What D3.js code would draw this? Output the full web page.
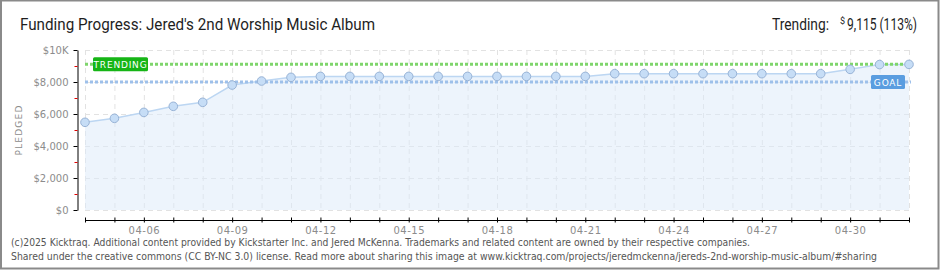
<!DOCTYPE html>
<html>
<head>
<meta charset="utf-8">
<script src="https://cdn.jsdelivr.net/npm/d3@7/dist/d3.min.js"></script>
<style>
  body { margin: 0; background: #fff; }
  svg { display: block; }
</style>
</head>
<body>
<svg width="940" height="270"></svg>
<script>
// daily pledged totals
const dates = ['04-04', '04-05', '04-06', '04-07', '04-08', '04-09', '04-10', '04-11', '04-12',
  '04-13', '04-14', '04-15', '04-16', '04-17', '04-18', '04-19', '04-20', '04-21', '04-22',
  '04-23', '04-24', '04-25', '04-26', '04-27', '04-28', '04-29', '04-30', '05-01', '05-02'];
const pledged = [5480, 5730, 6100, 6480, 6730, 7810, 8060, 8290, 8350,
  8350, 8350, 8350, 8350, 8350, 8350, 8350, 8350, 8350, 8520,
  8520, 8520, 8520, 8520, 8520, 8520, 8520, 8790, 9090, 9100];
const goal = 8000;
const trending = 9115;
const yTicks = [0, 2000, 4000, 6000, 8000, 10000];
const yMinor = [1000, 3000, 5000, 7000, 9000];
const xLabels = ['04-06', '04-09', '04-12', '04-15', '04-18', '04-21', '04-24', '04-27', '04-30'];

function draw() {
  const svg = d3.select('svg');
  const left = 85, right = 909, top = 50, bottom = 210;

  const x = d3.scalePoint().domain(dates).range([left, right]);
  const y = d3.scaleLinear().domain([0, 10000]).range([bottom, top]);

  // outer frame
  svg.append('rect')
    .attr('x', 1).attr('y', 0.5).attr('width', 937.5).attr('height', 268)
    .attr('fill', 'none').attr('stroke', '#8a8a8a').attr('stroke-width', 2);

  // title + trending summary
  svg.append('text')
    .attr('x', 20).attr('y', 30)
    .attr('font-family', 'Roboto, sans-serif').attr('font-size', 16)
    .attr('fill', '#1e1e1e')
    .attr('textLength', 355).attr('lengthAdjust', 'spacingAndGlyphs')
    .text("Funding Progress: Jered's 2nd Worship Music Album");

  svg.append('text')
    .attr('x', 772).attr('y', 30)
    .attr('font-family', 'Roboto, sans-serif').attr('font-size', 16)
    .attr('fill', '#1e1e1e')
    .attr('textLength', 57).attr('lengthAdjust', 'spacingAndGlyphs')
    .text('Trending:');
  svg.append('text')
    .attr('x', 840).attr('y', 24)
    .attr('font-family', 'Roboto, sans-serif').attr('font-size', 9)
    .attr('fill', '#1e1e1e')
    .text('$');
  svg.append('text')
    .attr('x', 847).attr('y', 30)
    .attr('font-family', 'Roboto, sans-serif').attr('font-size', 16)
    .attr('fill', '#1e1e1e')
    .attr('textLength', 70).attr('lengthAdjust', 'spacingAndGlyphs')
    .text(d3.format(',')(trending) + ' (' + Math.floor(trending / goal * 100) + '%)');

  // grid
  const grid = svg.append('g')
    .attr('stroke', '#e2e2e2').attr('stroke-dasharray', '5,4').attr('stroke-width', 1);
  dates.forEach(function (d) {
    grid.append('line')
      .attr('x1', x(d) + 0.5).attr('x2', x(d) + 0.5)
      .attr('y1', top).attr('y2', bottom);
  });
  yTicks.forEach(function (v) {
    grid.append('line')
      .attr('x1', left).attr('x2', right + 1)
      .attr('y1', y(v) + 0.5).attr('y2', y(v) + 0.5);
  });

  // area + line
  const area = d3.area()
    .x((d, i) => x(dates[i]))
    .y0(y(0))
    .y1(d => y(d));
  svg.append('path')
    .attr('d', area(pledged))
    .attr('fill', '#dce9f9').attr('fill-opacity', 0.5);

  const line = d3.line()
    .x((d, i) => x(dates[i]))
    .y(d => y(d));
  svg.append('path')
    .attr('d', line(pledged))
    .attr('fill', 'none').attr('stroke', '#bcd6f2').attr('stroke-width', 1.5);

  // goal and trending lines
  svg.append('line')
    .attr('x1', left).attr('x2', right + 2)
    .attr('y1', y(goal)).attr('y2', y(goal))
    .attr('stroke', '#9ec0ea').attr('stroke-width', 3).attr('stroke-dasharray', '3,2');
  svg.append('line')
    .attr('x1', left).attr('x2', right + 2)
    .attr('y1', y(trending)).attr('y2', y(trending))
    .attr('stroke', '#7fd56c').attr('stroke-width', 3).attr('stroke-dasharray', '3,2');

  // points
  svg.selectAll('circle.pt')
    .data(pledged)
    .enter()
    .append('circle')
    .attr('class', 'pt')
    .attr('cx', (d, i) => x(dates[i]))
    .attr('cy', d => y(d))
    .attr('r', 4.3)
    .attr('fill', '#c6ddf6')
    .attr('stroke', '#98b3d6')
    .attr('stroke-width', 1);

  // trending badge
  const tb = svg.append('g').attr('transform', 'translate(93,' + (y(trending) - 7) + ')');
  tb.append('rect').attr('width', 55).attr('height', 14).attr('rx', 1.5).attr('fill', '#16b516');
  tb.append('text')
    .attr('x', 27.5).attr('y', 10.5).attr('text-anchor', 'middle')
    .attr('font-family', 'DejaVu Sans, sans-serif').attr('font-size', 9)
    .attr('fill', '#fff').attr('letter-spacing', 0.8)
    .text('TRENDING');

  // goal badge
  const gb = svg.append('g').attr('transform', 'translate(871,' + (y(goal) - 7) + ')');
  gb.append('rect').attr('width', 34).attr('height', 14).attr('rx', 1.5).attr('fill', '#5a9de0');
  gb.append('text')
    .attr('x', 17).attr('y', 10.5).attr('text-anchor', 'middle')
    .attr('font-family', 'DejaVu Sans, sans-serif').attr('font-size', 9)
    .attr('fill', '#fff').attr('letter-spacing', 0.8)
    .text('GOAL');

  // y axis
  const yAxis = d3.axisLeft(y)
    .tickValues(yTicks)
    .tickSize(4)
    .tickSizeOuter(0)
    .tickPadding(5)
    .tickFormat(v => v === 10000 ? '$10K' : '$' + d3.format(',')(v));
  const ya = svg.append('g').attr('transform', 'translate(77.5,0)').call(yAxis);
  ya.select('.domain').attr('stroke', '#000');
  ya.selectAll('.tick line').attr('stroke', '#000');
  ya.selectAll('text')
    .attr('font-family', 'DejaVu Sans, sans-serif').attr('font-size', 10)
    .attr('fill', '#8c8c8c');

  const yMin = d3.axisLeft(y).tickValues(yMinor).tickSize(3).tickSizeOuter(0).tickFormat('');
  const ym = svg.append('g').attr('transform', 'translate(77.5,0)').call(yMin);
  ym.select('.domain').remove();
  ym.selectAll('.tick line').attr('stroke', '#e00000');

  svg.append('text')
    .attr('transform', 'translate(22,130) rotate(-90)')
    .attr('text-anchor', 'middle')
    .attr('font-family', 'DejaVu Sans, sans-serif').attr('font-size', 9)
    .attr('letter-spacing', 1.2)
    .attr('fill', '#8c8c8c')
    .text('PLEDGED');

  // x axis
  const xAxis = d3.axisBottom(x)
    .tickSize(2)
    .tickSizeOuter(0)
    .tickFormat(d => xLabels.includes(d) ? d : '');
  const xa = svg.append('g').attr('transform', 'translate(0,220.5)').call(xAxis);
  xa.select('.domain').attr('stroke', '#000').attr('d', 'M' + left + ',0H' + (right + 1));
  xa.selectAll('.tick line').attr('y1', -3).attr('stroke', '#000');
  xa.selectAll('text')
    .attr('y', 6)
    .attr('font-family', 'DejaVu Sans, sans-serif').attr('font-size', 10)
    .attr('letter-spacing', 0.5)
    .attr('fill', '#8c8c8c');

  // footer
  svg.append('text')
    .attr('x', 11).attr('y', 246)
    .attr('font-family', 'DejaVu Sans, sans-serif').attr('font-size', 10)
    .attr('fill', '#555')
    .attr('textLength', 739).attr('lengthAdjust', 'spacingAndGlyphs')
    .text('(c)2025 Kicktraq. Additional content provided by Kickstarter Inc. and Jered McKenna. Trademarks and related content are owned by their respective companies.');
  svg.append('text')
    .attr('x', 11).attr('y', 260)
    .attr('font-family', 'DejaVu Sans, sans-serif').attr('font-size', 10)
    .attr('fill', '#555')
    .attr('textLength', 866).attr('lengthAdjust', 'spacingAndGlyphs')
    .text('Shared under the creative commons (CC BY-NC 3.0) license. Read more about sharing this image at www.kicktraq.com/projects/jeredmckenna/jereds-2nd-worship-music-album/#sharing');
}

draw();
</script>
</body>
</html>
